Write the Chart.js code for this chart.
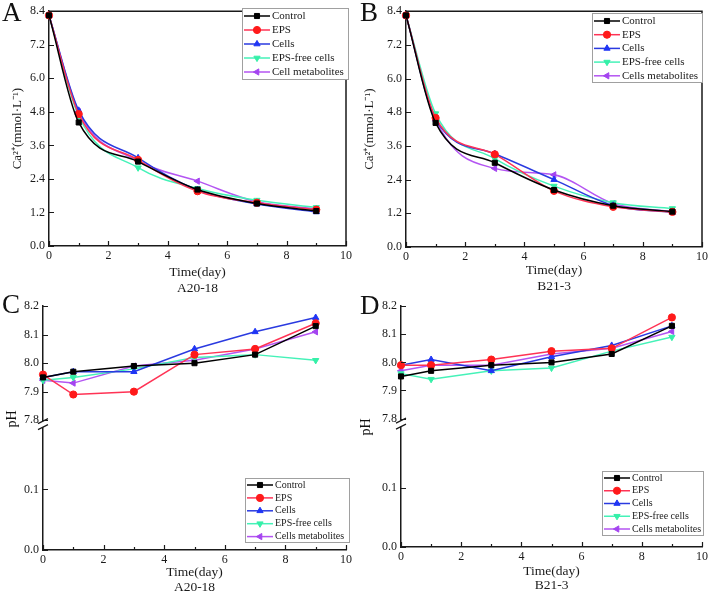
<!DOCTYPE html>
<html>
<head>
<meta charset="utf-8">
<script src="https://cdn.jsdelivr.net/npm/chart.js@4/dist/chart.umd.min.js"></script>
<style>
html, body { margin: 0; padding: 0; background: #fff; }
#page { position: relative; width: 711px; height: 595px; overflow: hidden; font-family: 'Liberation Serif', 'Times New Roman', serif; color: #111; }
canvas { position: absolute; }
.tag { position: absolute; font-size: 27px; line-height: 27px; }
.ph { position: absolute; font-size: 14px; line-height: 14px; transform: translate(-50%, -50%) rotate(-90deg); white-space: nowrap; }
</style>
</head>
<body>
<div id="page">
  <canvas id="cA" width="355" height="300" style="left:0;top:0"></canvas>
  <canvas id="cB" width="356" height="300" style="left:355px;top:0"></canvas>
  <canvas id="cC" width="355" height="300" style="left:0;top:295px"></canvas>
  <canvas id="cD" width="356" height="300" style="left:355px;top:295px"></canvas>
  <div class="tag" style="left:2px;top:-1px">A</div>
  <div class="tag" style="left:360px;top:-1px">B</div>
  <div class="tag" style="left:2px;top:291px">C</div>
  <div class="tag" style="left:360px;top:292px">D</div>
  <div class="ph" style="left:12px;top:419px">pH</div>
  <div class="ph" style="left:366px;top:427px">pH</div>
</div>
<script>
// sampling days and axis ticks
const DAYS = [0, 1, 3, 5, 7, 9];
const X_TICKS = [0, 2, 4, 6, 8, 10];
const CA_TICKS = [0, 1.2, 2.4, 3.6, 4.8, 6.0, 7.2, 8.4];
const PH_TICKS = [7.8, 7.9, 8.0, 8.1, 8.2];
const PH_LOW_TICKS = [0, 0.1];

const LABELS_A = ['Control', 'EPS', 'Cells', 'EPS-free cells', 'Cell metabolites'];
const LABELS_B = ['Control', 'EPS', 'Cells', 'EPS-free cells', 'Cells metabolites'];

// Ca2+ (mmol/L), one row per treatment (same order as labels)
const CA_A20 = [
    [8.25, 4.42, 3.02, 2.02, 1.52, 1.25],
    [8.25, 4.72, 3.08, 1.96, 1.55, 1.30],
    [8.25, 4.85, 3.15, 2.00, 1.50, 1.22],
    [8.25, 4.65, 2.80, 2.06, 1.64, 1.38],
    [8.25, 4.80, 3.05, 2.32, 1.58, 1.33]
];
const CA_B21 = [
    [8.25, 4.42, 3.00, 2.03, 1.47, 1.26],
    [8.25, 4.60, 3.30, 2.00, 1.43, 1.25],
    [8.25, 4.55, 3.32, 2.40, 1.48, 1.23],
    [8.25, 4.75, 3.15, 2.17, 1.58, 1.37],
    [8.25, 4.55, 2.80, 2.57, 1.55, 1.25]
];
// pH
const PH_A20 = [
    [7.95, 7.97, 7.99, 8.00, 8.03, 8.13],
    [7.96, 7.89, 7.90, 8.03, 8.05, 8.14],
    [7.95, 7.97, 7.97, 8.05, 8.11, 8.16],
    [7.94, 7.95, 7.98, 8.02, 8.03, 8.01],
    [7.94, 7.93, 7.99, 8.01, 8.05, 8.11]
];
const PH_B21 = [
    [7.95, 7.97, 7.99, 8.00, 8.03, 8.13],
    [7.99, 7.99, 8.01, 8.04, 8.05, 8.16],
    [7.99, 8.01, 7.97, 8.02, 8.06, 8.13],
    [7.96, 7.94, 7.97, 7.98, 8.04, 8.09],
    [7.97, 7.99, 7.99, 8.03, 8.05, 8.11]
];

const LINE_COLORS = ['#000000', '#ff3355', '#2a3ae0', '#45f2b8', '#b455f2'];
const MARK_COLORS = ['#000000', '#ff1a1a', '#1f35f5', '#35f0a8', '#a444f0'];
const MARKS = [['rect', 0], ['circle', 0], ['triangle', 0], ['triangle', 180], ['triangle', 270]];

const FONT = "'Liberation Serif', 'Times New Roman', serif";
const INK = '#1a1a1a';

// inward ticks, box frame and axis break
const axisDeco = {
    id: 'axisDeco',
    afterDraw(chart, args, o) {
        const ctx = chart.ctx, a = chart.chartArea, xs = chart.scales.x;
        ctx.save();
        ctx.strokeStyle = INK;
        ctx.lineWidth = 1.2;
        ctx.beginPath();
        for (let v = 0; v <= 10; v++) {
            const px = Math.round(xs.getPixelForValue(v)) + 0.5;
            ctx.moveTo(px, a.bottom);
            ctx.lineTo(px, a.bottom - (v % 2 ? 3 : 5));
        }
        ['y', 'y2'].forEach(id => {
            const s = chart.scales[id];
            if (!s) return;
            s.ticks.forEach(t => {
                const py = Math.round(s.getPixelForValue(t.value)) + 0.5;
                ctx.moveTo(a.left, py);
                ctx.lineTo(a.left + 5, py);
            });
        });
        ctx.stroke();
        if (o.frame) {
            ctx.lineWidth = 1.5;
            ctx.beginPath();
            ctx.moveTo(a.left, a.top);
            ctx.lineTo(a.right, a.top);
            ctx.lineTo(a.right, a.bottom);
            ctx.stroke();
        }
        if (chart.scales.y2) {
            const yb = chart.scales.y.bottom, x = a.left;
            ctx.fillStyle = '#fff';
            ctx.fillRect(x - 2, yb - 3, 4, 6);
            ctx.lineWidth = 1.2;
            ctx.beginPath();
            [-3, 3].forEach(d => {
                ctx.moveTo(x - 5, yb + d + 2.5);
                ctx.lineTo(x + 5, yb + d - 2.5);
            });
            ctx.stroke();
        }
        ctx.restore();
    }
};

// legend inside the plot, with border
const legendBox = {
    id: 'legendBox',
    afterDraw(chart, args, o) {
        if (!o.box) return;
        const ctx = chart.ctx;
        const [bx, by, bw, bh] = o.box;
        ctx.save();
        ctx.fillStyle = '#fff';
        ctx.fillRect(bx, by, bw, bh);
        ctx.strokeStyle = '#a0a0a0';
        ctx.lineWidth = 1;
        ctx.strokeRect(bx + 0.5, by + 0.5, bw, bh);
        chart.data.datasets.forEach((ds, i) => {
            const y = by + o.first + i * o.gap;
            const x0 = bx + 2, x1 = bx + 28;
            ctx.strokeStyle = ds.borderColor;
            ctx.lineWidth = 1.5;
            ctx.beginPath();
            ctx.moveTo(x0, y);
            ctx.lineTo(x1, y);
            ctx.stroke();
            ctx.fillStyle = ds.pointBackgroundColor;
            ctx.strokeStyle = ds.pointBorderColor;
            ctx.lineWidth = 1;
            Chart.helpers.drawPoint(ctx, {
                pointStyle: ds.pointStyle, rotation: ds.pointRotation,
                radius: ds.pointRadius, borderWidth: 1
            }, (x0 + x1) / 2, y);
            ctx.fillStyle = INK;
            ctx.font = o.size + 'px ' + FONT;
            ctx.textBaseline = 'middle';
            ctx.fillText(ds.label, x1 + 2, y);
        });
        ctx.restore();
    }
};

function makePanel(id, p) {
    const canvas = document.getElementById(id);
    const W = canvas.width, H = canvas.height;
    const datasets = p.rows.map((row, i) => ({
        label: p.labels[i],
        data: row.map((v, j) => ({ x: DAYS[j], y: v })),
        xAxisID: 'x',
        yAxisID: 'y',
        borderColor: LINE_COLORS[i],
        backgroundColor: MARK_COLORS[i],
        pointBackgroundColor: MARK_COLORS[i],
        pointBorderColor: MARK_COLORS[i],
        pointStyle: MARKS[i][0],
        pointRotation: MARKS[i][1],
        pointRadius: 3.6,
        pointBorderWidth: 1,
        borderWidth: 1.5,
        cubicInterpolationMode: p.smooth ? 'monotone' : 'default',
        tension: 0,
        clip: false
    }));

    const tickFont = { family: FONT, size: 12 };
    const scales = {
        x: {
            type: 'linear', min: 0, max: 10,
            afterBuildTicks: s => { s.ticks = X_TICKS.map(v => ({ value: v })); },
            afterFit: s => { s.height = H - p.plot.b; },
            grid: { display: false, drawTicks: false },
            border: { color: INK, width: 1.5 },
            ticks: { font: tickFont, color: INK, padding: 3 },
            title: {
                display: true, text: p.xTitle, color: INK,
                font: { family: FONT, size: 13.5, lineHeight: p.titleLH + 'px' },
                padding: { top: 0, bottom: p.titlePad }
            }
        }
    };
    if (!p.ph) {
        scales.y = {
            type: 'linear', min: 0, max: 8.4,
            afterBuildTicks: s => { s.ticks = CA_TICKS.map(v => ({ value: v })); },
            afterFit: s => { s.width = p.plot.l; },
            grid: { display: false, drawTicks: false },
            border: { color: INK, width: 1.5 },
            ticks: { font: tickFont, color: INK, padding: 4, callback: v => v.toFixed(1) },
            title: {
                display: true, text: 'Ca²⁺(mmol·L⁻¹)', color: INK,
                font: { family: FONT, size: 13, lineHeight: '16px' },
                padding: { top: p.yTitleX - 8, bottom: 0 }
            }
        };
    } else {
        const common = {
            type: 'linear', position: 'left', stack: 'ph',
            afterFit: s => { s.width = p.plot.l; },
            grid: { display: false, drawTicks: false },
            border: { color: INK, width: 1.5 },
            ticks: { font: tickFont, color: INK, padding: 4, callback: v => v.toFixed(1) }
        };
        // lower segment is declared first so it is stacked at the bottom
        scales.y2 = Object.assign({}, common, {
            min: 0, max: p.lowMax, stackWeight: p.wLow,
            afterBuildTicks: s => { s.ticks = PH_LOW_TICKS.map(v => ({ value: v })); }
        });
        scales.y = Object.assign({}, common, {
            min: p.upMin, max: 8.2, stackWeight: p.wUp,
            afterBuildTicks: s => { s.ticks = PH_TICKS.map(v => ({ value: v })); }
        });
    }

    return new Chart(canvas, {
        type: 'line',
        data: { datasets },
        options: {
            responsive: false,
            animation: false,
            devicePixelRatio: 1,
            layout: { padding: { left: 0, top: p.plot.t, right: W - p.plot.r, bottom: 0 } },
            scales,
            plugins: {
                legend: { display: false },
                tooltip: { enabled: false },
                axisDeco: { frame: !p.ph },
                legendBox: p.legend
            }
        },
        plugins: [axisDeco, legendBox]
    });
}

makePanel('cA', {
    labels: LABELS_A, rows: CA_A20, smooth: true, ph: false,
    xTitle: ['Time(day)', 'A20-18'], titleLH: 16, titlePad: 4, yTitleX: 18,
    plot: { l: 49, t: 10, r: 347, b: 246 },
    legend: { box: [242, 8, 106, 71], first: 8, gap: 14, size: 11 }
});
makePanel('cB', {
    labels: LABELS_B, rows: CA_B21, smooth: true, ph: false,
    xTitle: ['Time(day)', 'B21-3'], titleLH: 16, titlePad: 6, yTitleX: 15,
    plot: { l: 51, t: 11, r: 348, b: 247 },
    legend: { box: [237, 13, 110, 69], first: 8, gap: 13.7, size: 11 }
});
makePanel('cC', {
    labels: LABELS_B, rows: PH_A20, smooth: false, ph: true,
    upMin: 7.786, lowMax: 0.208, wUp: 119, wLow: 127,
    xTitle: ['Time(day)', 'A20-18'], titleLH: 15, titlePad: 0,
    plot: { l: 43, t: 9, r: 349, b: 255 },
    legend: { box: [245, 183, 104, 64], first: 7, gap: 12.9, size: 10 }
});
makePanel('cD', {
    labels: LABELS_B, rows: PH_B21, smooth: false, ph: true,
    upMin: 7.782, lowMax: 0.21, wUp: 118, wLow: 124,
    xTitle: ['Time(day)', 'B21-3'], titleLH: 14, titlePad: 3,
    plot: { l: 46, t: 10, r: 349, b: 252 },
    legend: { box: [247, 176, 101, 64], first: 7, gap: 12.75, size: 10 }
});
</script>
</body>
</html>
